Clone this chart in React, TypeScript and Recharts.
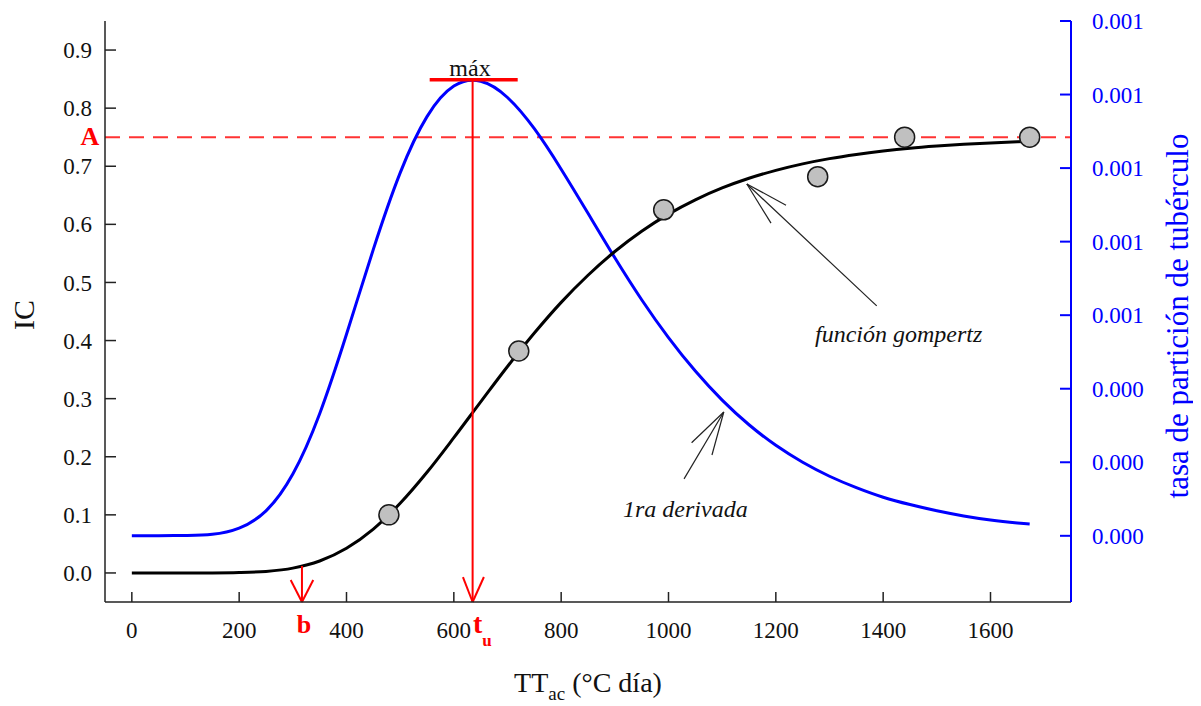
import React from 'react';
import { ComposedChart, Line, Scatter, XAxis, YAxis, ReferenceLine } from 'recharts';

// thermal time (°C día) for the fitted curves
const TT = [
  0, 50, 100, 150, 200, 250, 300, 350, 400, 450, 500, 550, 600, 650, 700, 750, 800,
  850, 900, 950, 1000, 1050, 1100, 1150, 1200, 1250, 1300, 1350, 1400, 1450, 1500,
  1550, 1600, 1650, 1673,
];
// gompertz fit (IC)
const IC_FIT = [
  0, 0, 0, 0.0001, 0.0007, 0.0027, 0.0083, 0.0206, 0.0425, 0.0756, 0.1199, 0.1733,
  0.2328, 0.2945, 0.3554, 0.4129, 0.4657, 0.5124, 0.5533, 0.5882, 0.6176, 0.6422,
  0.6626, 0.6793, 0.6929, 0.7041, 0.7131, 0.7203, 0.7262, 0.731, 0.7347, 0.7378,
  0.7402, 0.7422, 0.743,
];
// 1ra derivada (tasa de partición)
const RATE = [
  0, 0, 0.000001, 0.000004, 0.000021, 0.000068, 0.000168, 0.000332, 0.000548,
  0.000779, 0.000987, 0.00114, 0.001223, 0.001236, 0.001192, 0.001107, 0.000997,
  0.000877, 0.000756, 0.000642, 0.000539, 0.000448, 0.000369, 0.000302, 0.000246,
  0.0002, 0.000162, 0.000131, 0.000105, 0.000085, 0.000068, 0.000054, 0.000043,
  0.000035, 0.000032,
];
// observed points
const OBS_TT = [479, 721, 991, 1278, 1440, 1673];
const OBS_IC = [0.1, 0.382, 0.625, 0.682, 0.75, 0.75];

const X_TICKS = [0, 200, 400, 600, 800, 1000, 1200, 1400, 1600];
const IC_TICKS = [0, 0.1, 0.2, 0.3, 0.4, 0.5, 0.6, 0.7, 0.8, 0.9];
const RATE_TICKS = [0, 0.0002, 0.0004, 0.0006, 0.0008, 0.001, 0.0012, 0.0014];

const A_VALUE = 0.75;
const TU = 635;
const B_VALUE = 317;
const PEAK_IC = 0.849;

const curve = TT.map((t, i) => ({ t, ic: IC_FIT[i], rate: RATE[i] }));
const obs = OBS_TT.map((t, i) => ({ t, ic: OBS_IC[i] }));

const FONT = 'Liberation Serif, serif';
const RED = '#ff0000';
const BLUE = '#0000ff';

type Seg = [number, number, number, number];
const ARROWS: Seg[] = [
  // función gompertz
  [1146, 0.6695, 1388, 0.4596],
  [1146, 0.6695, 1219, 0.633],
  [1146, 0.6695, 1191, 0.602],
  // 1ra derivada
  [1103, 0.277, 1029, 0.162],
  [1103, 0.277, 1043, 0.224],
  [1103, 0.277, 1081, 0.203],
];
const RED_SEGS: Seg[] = [
  [TU, PEAK_IC, TU, -0.05],
  [617, -0.007, TU, -0.05],
  [656, -0.007, TU, -0.05],
  [B_VALUE, 0.012, B_VALUE, -0.05],
  [296, -0.012, B_VALUE, -0.05],
  [338, -0.012, B_VALUE, -0.05],
];

const Dot = (props: any) => (
  <circle cx={props.cx} cy={props.cy} r={10} fill="#c0c0c0" stroke="#1a1a1a" strokeWidth={1.5} />
);

const makeTick = (anchor: 'start' | 'middle' | 'end', dy: string, fill: string, fmt: (v: number) => string) =>
  (p: any) => (
    <text
      x={p.x}
      y={p.y}
      dy={dy}
      textAnchor={anchor}
      fontFamily={FONT}
      fontSize={23}
      fill={fill}
    >
      {fmt(p.payload.value)}
    </text>
  );

export default function App() {
  const txt = { fontFamily: FONT };
  return (
    <div style={{ position: 'relative', width: 1185, height: 698, fontFamily: FONT }}>
      <ComposedChart
        width={1185}
        height={698}
        data={curve}
        margin={{ top: 13, right: 42, bottom: 64, left: 37 }}
      >
        <XAxis
          xAxisId="b"
          dataKey="t"
          type="number"
          domain={[-50, 1750]}
          ticks={X_TICKS}
          allowDataOverflow
          height={40}
          tickSize={-10}
          tickMargin={30}
          tick={makeTick('middle', '0.71em', '#111', (v) => String(v))}
          stroke="#222"
          strokeWidth={1.5}
        />
        <XAxis
          xAxisId="top"
          orientation="top"
          dataKey="t"
          type="number"
          domain={[-50, 1750]}
          ticks={X_TICKS}
          allowDataOverflow
          height={0}
          tickSize={-10}
          tickFormatter={() => ''}
          stroke="#222"
          strokeWidth={1.5}
        />
        <YAxis
          yAxisId="ic"
          type="number"
          domain={[-0.05, 0.95]}
          ticks={IC_TICKS}
          allowDataOverflow
          width={60}
          tickSize={-11}
          tickMargin={24}
          tick={makeTick('end', '0.35em', '#111', (v) => v.toFixed(1))}
          stroke="#222"
          strokeWidth={1.5}
        />
        <YAxis
          yAxisId="rate"
          orientation="right"
          type="number"
          domain={[-0.00018, 0.0014]}
          ticks={RATE_TICKS}
          allowDataOverflow
          width={80}
          tickSize={-11}
          tickMargin={32}
          tick={makeTick('start', '0.35em', BLUE, (v) => v.toFixed(3))}
          stroke={BLUE}
          strokeWidth={2}
        />

        <ReferenceLine
          xAxisId="b"
          yAxisId="ic"
          y={A_VALUE}
          stroke="#ff3333"
          strokeWidth={2}
          strokeDasharray="15 9"
        />

        <Scatter
          xAxisId="b"
          yAxisId="ic"
          data={obs}
          dataKey="ic"
          shape={Dot}
          isAnimationActive={false}
        />
        <Line
          xAxisId="b"
          yAxisId="rate"
          dataKey="rate"
          type="natural"
          stroke={BLUE}
          strokeWidth={3}
          dot={false}
          isAnimationActive={false}
        />
        <Line
          xAxisId="b"
          yAxisId="ic"
          dataKey="ic"
          type="monotone"
          stroke="#000"
          strokeWidth={3}
          dot={false}
          isAnimationActive={false}
        />

        <ReferenceLine
          xAxisId="b"
          yAxisId="ic"
          segment={[{ x: 555, y: PEAK_IC }, { x: 719, y: PEAK_IC }]}
          stroke={RED}
          strokeWidth={3.5}
        />
        {RED_SEGS.map((s, i) => (
          <ReferenceLine
            key={'r' + i}
            xAxisId="b"
            yAxisId="ic"
            segment={[{ x: s[0], y: s[1] }, { x: s[2], y: s[3] }]}
            stroke={RED}
            strokeWidth={2}
          />
        ))}
        {ARROWS.map((s, i) => (
          <ReferenceLine
            key={'a' + i}
            xAxisId="b"
            yAxisId="ic"
            segment={[{ x: s[0], y: s[1] }, { x: s[2], y: s[3] }]}
            stroke="#222"
            strokeWidth={1.2}
          />
        ))}
      </ComposedChart>

      <svg
        width={1193}
        height={698}
        style={{ position: 'absolute', left: 0, top: 0, pointerEvents: 'none', fontFamily: FONT, overflow: 'visible' }}
      >
        <text {...txt} x={82} y={137} textAnchor="middle" fontSize={26} fontWeight="bold" fill={RED}>A</text>
        <text {...txt} x={462} y={68} textAnchor="middle" fontSize={24} fill="#111">máx</text>
        <text {...txt} x={296} y={625} textAnchor="middle" fontSize={26} fontWeight="bold" fill={RED}>b</text>
        <text {...txt} x={465} y={625} fontSize={28} fontWeight="bold" fill={RED}>
          t<tspan fontSize={17} dy={13}>u</tspan>
        </text>
        <text {...txt} x={807} y={334} fontSize={24} fontStyle="italic" fill="#111">función gompertz</text>
        <text {...txt} x={615} y={509} fontSize={24} fontStyle="italic" fill="#111">1ra derivada</text>
        <text
          {...txt}
          x={15}
          y={307}
          fontSize={30}
          fill="#111"
          textAnchor="middle"
          dominantBaseline="central"
          transform="rotate(-90 15 307)"
        >
          IC
        </text>
        <text
          {...txt}
          x={1169}
          y={308}
          fontSize={31}
          fill={BLUE}
          textAnchor="middle"
          dominantBaseline="central"
          transform="rotate(-90 1169 308)"
        >
          tasa de partición de tubérculo
        </text>
        <text {...txt} x={580} y={684} fontSize={28} fill="#111" textAnchor="middle">
          TT<tspan fontSize={19} dy={8}>ac</tspan>
          <tspan dy={-8}> (°C día)</tspan>
        </text>
      </svg>
    </div>
  );
}
